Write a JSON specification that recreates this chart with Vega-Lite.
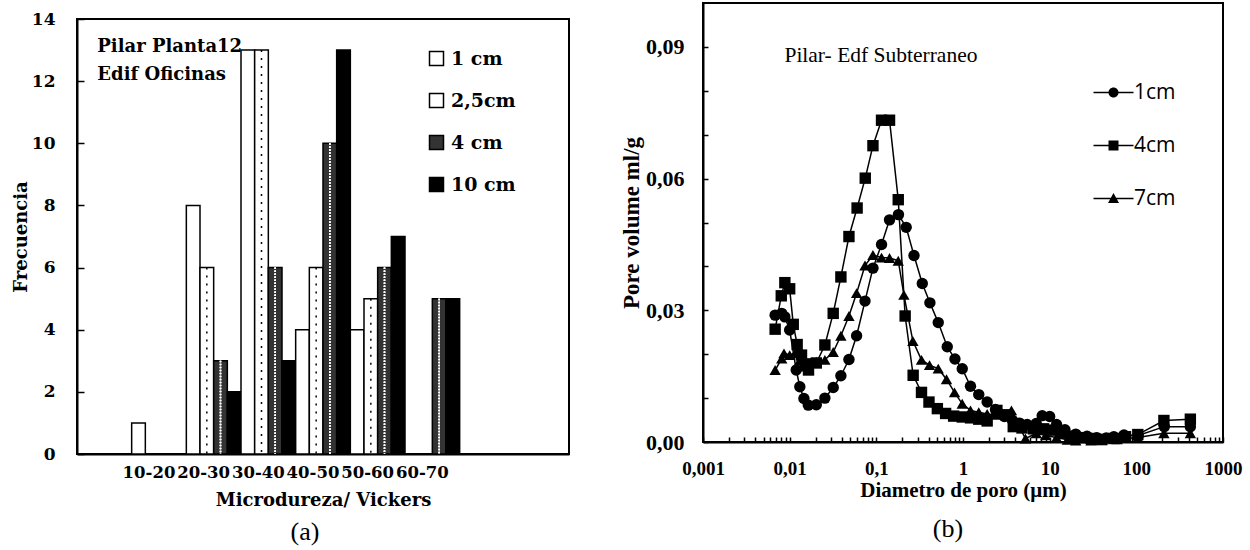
{
  "$schema": "https://vega.github.io/schema/vega-lite/v6.json",
  "background": "white",
  "padding": {"left": 11, "top": 0, "right": 5, "bottom": 0},
  "spacing": 49,
  "config": {
    "view": {"stroke": "black", "strokeWidth": 2},
    "axis": {"domainColor": "black", "domainWidth": 2, "tickColor": "black", "tickWidth": 1.5, "labelColor": "black", "titleColor": "black", "grid": false, "labelFont": "Liberation Serif", "titleFont": "Liberation Serif", "labelFontWeight": "bold", "titleFontWeight": "bold"},
    "title": {"color": "black"}
  },
  "hconcat": [
    {
      "spacing": 2,
      "vconcat": [
        {
          "width": 10,
          "height": 1,
          "data": {"values": [{}]},
          "mark": {"type": "point", "opacity": 0},
          "encoding": {},
          "view": {"stroke": null}
        },
        {
          "width": 492,
          "height": 435,
          "title": {"text": "(a)", "orient": "bottom", "font": "Liberation Serif", "fontSize": 26, "fontWeight": "normal", "offset": 9, "dx": -18},
          "data": {"values": [
            {"range": "10-20", "size": "1 cm", "freq": 1},
            {"range": "20-30", "size": "1 cm", "freq": 8},
            {"range": "20-30", "size": "2,5cm", "freq": 6},
            {"range": "20-30", "size": "4 cm", "freq": 3},
            {"range": "20-30", "size": "10 cm", "freq": 2},
            {"range": "30-40", "size": "1 cm", "freq": 13},
            {"range": "30-40", "size": "2,5cm", "freq": 13},
            {"range": "30-40", "size": "4 cm", "freq": 6},
            {"range": "30-40", "size": "10 cm", "freq": 3},
            {"range": "40-50", "size": "1 cm", "freq": 4},
            {"range": "40-50", "size": "2,5cm", "freq": 6},
            {"range": "40-50", "size": "4 cm", "freq": 10},
            {"range": "40-50", "size": "10 cm", "freq": 13},
            {"range": "50-60", "size": "1 cm", "freq": 4},
            {"range": "50-60", "size": "2,5cm", "freq": 5},
            {"range": "50-60", "size": "4 cm", "freq": 6},
            {"range": "50-60", "size": "10 cm", "freq": 7},
            {"range": "60-70", "size": "4 cm", "freq": 5},
            {"range": "60-70", "size": "10 cm", "freq": 5}
          ]},
          "layer": [
            {
              "mark": {"type": "bar", "stroke": "black", "strokeWidth": 1.5},
              "encoding": {
                "x": {"field": "range", "type": "nominal", "sort": null,
                  "scale": {"domain": ["_a", "10-20", "20-30", "30-40", "40-50", "50-60", "60-70", "_b", "_c"], "paddingInner": 0, "paddingOuter": 0},
                  "axis": {"title": "Microdureza/ Vickers", "ticks": false, "labelAngle": 0, "labelExpr": "indexof(datum.value,'_')==0 ? '' : datum.value", "labelFont": "DejaVu Serif", "labelFontSize": 16.5, "labelPadding": 10, "labelOffset": -10, "labelOverlap": false, "titleFont": "DejaVu Serif", "titleFontSize": 18, "titlePadding": 11}},
                "xOffset": {"field": "size", "type": "nominal", "scale": {"domain": ["1 cm", "2,5cm", "4 cm", "10 cm"], "paddingInner": 0, "paddingOuter": 0}},
                "y": {"field": "freq", "type": "quantitative", "scale": {"domain": [0, 14], "nice": false},
                  "axis": {"title": "Frecuencia", "values": [0,0.5,1,1.5,2,2.5,3,3.5,4,4.5,5,5.5,6,6.5,7,7.5,8,8.5,9,9.5,10,10.5,11,11.5,12,12.5,13,13.5,14], "labelExpr": "datum.value % 2 == 0 ? datum.label : ''", "labelOverlap": false, "tickSize": -7, "labelFont": "DejaVu Serif", "labelFontSize": 17, "labelPadding": 29, "titleFont": "DejaVu Serif", "titleFontSize": 18, "titlePadding": 1}},
                "fill": {"field": "size", "type": "nominal",
                  "scale": {"domain": ["1 cm", "2,5cm", "4 cm", "10 cm"], "range": ["white", "white", "#333333", "black"]},
                  "legend": {"title": null, "orient": "none", "legendX": 350, "legendY": 46, "symbolType": "square", "symbolSize": 196, "symbolStrokeColor": "black", "symbolStrokeWidth": 1.5, "labelFont": "DejaVu Serif", "labelFontWeight": "bold", "labelFontSize": 19, "labelColor": "black", "labelOffset": 5, "rowPadding": 21, "padding": 0}}
              }
            },
            {
              "transform": [{"filter": "datum.size === '2,5cm'"}],
              "mark": {"type": "rule", "color": "black", "strokeWidth": 1.5, "strokeDash": [2, 6]},
              "encoding": {
                "x": {"field": "range", "type": "nominal", "sort": null},
                "xOffset": {"field": "size", "type": "nominal"},
                "y": {"field": "freq", "type": "quantitative"},
                "y2": {"datum": 0}
              }
            },
            {
              "transform": [{"filter": "datum.size === '4 cm'"}],
              "mark": {"type": "rule", "color": "white", "strokeWidth": 1.5, "strokeDash": [1.5, 1.5], "xOffset": -4.5},
              "encoding": {
                "x": {"field": "range", "type": "nominal", "sort": null},
                "xOffset": {"field": "size", "type": "nominal"},
                "y": {"field": "freq", "type": "quantitative"},
                "y2": {"datum": 0}
              }
            },
            {
              "transform": [{"filter": "datum.size === '4 cm'"}],
              "mark": {"type": "rule", "color": "white", "strokeWidth": 1.5, "strokeDash": [1.5, 1.5], "xOffset": -1.5},
              "encoding": {
                "x": {"field": "range", "type": "nominal", "sort": null},
                "xOffset": {"field": "size", "type": "nominal"},
                "y": {"field": "freq", "type": "quantitative"},
                "y2": {"datum": 0}
              }
            },
            {
              "transform": [{"filter": "datum.size === '4 cm'"}],
              "mark": {"type": "rule", "color": "white", "strokeWidth": 1.5, "strokeDash": [1.5, 1.5], "xOffset": 1.5},
              "encoding": {
                "x": {"field": "range", "type": "nominal", "sort": null},
                "xOffset": {"field": "size", "type": "nominal"},
                "y": {"field": "freq", "type": "quantitative"},
                "y2": {"datum": 0}
              }
            },
            {
              "transform": [{"filter": "datum.size === '4 cm'"}],
              "mark": {"type": "rule", "color": "white", "strokeWidth": 1.5, "strokeDash": [1.5, 1.5], "xOffset": 4.5},
              "encoding": {
                "x": {"field": "range", "type": "nominal", "sort": null},
                "xOffset": {"field": "size", "type": "nominal"},
                "y": {"field": "freq", "type": "quantitative"},
                "y2": {"datum": 0}
              }
            },
            {
              "data": {"values": [{}]},
              "mark": {"type": "text", "align": "left", "baseline": "middle", "font": "DejaVu Serif", "fontWeight": "bold", "fontSize": 18, "lineHeight": 28, "dx": -7, "color": "black"},
              "encoding": {
                "x": {"datum": "_a", "type": "nominal"},
                "y": {"datum": 13.1, "type": "quantitative"},
                "text": {"value": ["Pilar Planta12", "Edif Oficinas"]}
              }
            }
          ]
        }
      ]
    },
    {
      "width": 520,
      "height": 439,
      "title": {"text": "(b)", "orient": "bottom", "font": "Liberation Serif", "fontSize": 26, "fontWeight": "normal", "offset": 16, "dx": -15},
      "data": {"values": [
        {"series": "1cm", "d": 0.0068, "v": 0.0289},
        {"series": "1cm", "d": 0.0081, "v": 0.0293},
        {"series": "1cm", "d": 0.0088, "v": 0.0285},
        {"series": "1cm", "d": 0.0100, "v": 0.0255},
        {"series": "1cm", "d": 0.0119, "v": 0.0164},
        {"series": "1cm", "d": 0.0131, "v": 0.0126},
        {"series": "1cm", "d": 0.0146, "v": 0.0099},
        {"series": "1cm", "d": 0.0164, "v": 0.0084},
        {"series": "1cm", "d": 0.0203, "v": 0.0085},
        {"series": "1cm", "d": 0.0255, "v": 0.0100},
        {"series": "1cm", "d": 0.0318, "v": 0.0124},
        {"series": "1cm", "d": 0.0390, "v": 0.0151},
        {"series": "1cm", "d": 0.0483, "v": 0.0188},
        {"series": "1cm", "d": 0.0592, "v": 0.0242},
        {"series": "1cm", "d": 0.0740, "v": 0.0321},
        {"series": "1cm", "d": 0.0914, "v": 0.0396},
        {"series": "1cm", "d": 0.1148, "v": 0.0450},
        {"series": "1cm", "d": 0.1420, "v": 0.0506},
        {"series": "1cm", "d": 0.1800, "v": 0.0518},
        {"series": "1cm", "d": 0.2210, "v": 0.0489},
        {"series": "1cm", "d": 0.2720, "v": 0.0425},
        {"series": "1cm", "d": 0.3390, "v": 0.0361},
        {"series": "1cm", "d": 0.4150, "v": 0.0317},
        {"series": "1cm", "d": 0.5180, "v": 0.0272},
        {"series": "1cm", "d": 0.6580, "v": 0.0217},
        {"series": "1cm", "d": 0.8070, "v": 0.0189},
        {"series": "1cm", "d": 0.9800, "v": 0.0167},
        {"series": "1cm", "d": 1.22, "v": 0.0127},
        {"series": "1cm", "d": 1.52, "v": 0.0108},
        {"series": "1cm", "d": 1.90, "v": 0.0091},
        {"series": "1cm", "d": 2.37, "v": 0.0074},
        {"series": "1cm", "d": 3.0, "v": 0.0058},
        {"series": "1cm", "d": 3.7, "v": 0.0050},
        {"series": "1cm", "d": 4.5, "v": 0.0043},
        {"series": "1cm", "d": 5.5, "v": 0.0040},
        {"series": "1cm", "d": 7.0, "v": 0.0042},
        {"series": "1cm", "d": 8.2, "v": 0.0060},
        {"series": "1cm", "d": 10.0, "v": 0.0058},
        {"series": "1cm", "d": 12, "v": 0.0040},
        {"series": "1cm", "d": 15, "v": 0.0028},
        {"series": "1cm", "d": 20, "v": 0.0018},
        {"series": "1cm", "d": 27, "v": 0.0013},
        {"series": "1cm", "d": 35, "v": 0.0010},
        {"series": "1cm", "d": 45, "v": 0.0009},
        {"series": "1cm", "d": 55, "v": 0.0012},
        {"series": "1cm", "d": 72, "v": 0.0016},
        {"series": "1cm", "d": 105, "v": 0.0015},
        {"series": "1cm", "d": 210, "v": 0.0035},
        {"series": "1cm", "d": 420, "v": 0.0035},
        {"series": "4cm", "d": 0.0068, "v": 0.0257},
        {"series": "4cm", "d": 0.0080, "v": 0.0333},
        {"series": "4cm", "d": 0.0088, "v": 0.0363},
        {"series": "4cm", "d": 0.0100, "v": 0.0349},
        {"series": "4cm", "d": 0.0110, "v": 0.0268},
        {"series": "4cm", "d": 0.0122, "v": 0.0222},
        {"series": "4cm", "d": 0.0137, "v": 0.0198},
        {"series": "4cm", "d": 0.0153, "v": 0.0178},
        {"series": "4cm", "d": 0.0165, "v": 0.0164},
        {"series": "4cm", "d": 0.0203, "v": 0.0180},
        {"series": "4cm", "d": 0.0255, "v": 0.0221},
        {"series": "4cm", "d": 0.0318, "v": 0.0293},
        {"series": "4cm", "d": 0.0390, "v": 0.0376},
        {"series": "4cm", "d": 0.0483, "v": 0.0468},
        {"series": "4cm", "d": 0.0600, "v": 0.0533},
        {"series": "4cm", "d": 0.0745, "v": 0.0601},
        {"series": "4cm", "d": 0.0914, "v": 0.0675},
        {"series": "4cm", "d": 0.1148, "v": 0.0733},
        {"series": "4cm", "d": 0.1420, "v": 0.0733},
        {"series": "4cm", "d": 0.1790, "v": 0.0552},
        {"series": "4cm", "d": 0.2150, "v": 0.0287},
        {"series": "4cm", "d": 0.2660, "v": 0.0152},
        {"series": "4cm", "d": 0.3320, "v": 0.0113},
        {"series": "4cm", "d": 0.4050, "v": 0.0091},
        {"series": "4cm", "d": 0.5060, "v": 0.0076},
        {"series": "4cm", "d": 0.6300, "v": 0.0065},
        {"series": "4cm", "d": 0.7800, "v": 0.0059},
        {"series": "4cm", "d": 0.9800, "v": 0.0057},
        {"series": "4cm", "d": 1.22, "v": 0.0055},
        {"series": "4cm", "d": 1.52, "v": 0.0052},
        {"series": "4cm", "d": 1.90, "v": 0.0048},
        {"series": "4cm", "d": 2.46, "v": 0.0072},
        {"series": "4cm", "d": 3.2, "v": 0.0062},
        {"series": "4cm", "d": 3.8, "v": 0.0035},
        {"series": "4cm", "d": 4.8, "v": 0.0032},
        {"series": "4cm", "d": 6.5, "v": 0.0030},
        {"series": "4cm", "d": 8.5, "v": 0.0030},
        {"series": "4cm", "d": 11, "v": 0.0027},
        {"series": "4cm", "d": 14, "v": 0.0020},
        {"series": "4cm", "d": 18, "v": 0.0013},
        {"series": "4cm", "d": 23, "v": 0.0010},
        {"series": "4cm", "d": 30, "v": 0.0008},
        {"series": "4cm", "d": 40, "v": 0.0006},
        {"series": "4cm", "d": 55, "v": 0.0008},
        {"series": "4cm", "d": 75, "v": 0.0012},
        {"series": "4cm", "d": 104, "v": 0.0017},
        {"series": "4cm", "d": 208, "v": 0.0049},
        {"series": "4cm", "d": 420, "v": 0.0052},
        {"series": "7cm", "d": 0.0068, "v": 0.0164},
        {"series": "7cm", "d": 0.0081, "v": 0.0190},
        {"series": "7cm", "d": 0.0086, "v": 0.0202},
        {"series": "7cm", "d": 0.0100, "v": 0.0198},
        {"series": "7cm", "d": 0.0115, "v": 0.0202},
        {"series": "7cm", "d": 0.0130, "v": 0.0185},
        {"series": "7cm", "d": 0.0145, "v": 0.0172},
        {"series": "7cm", "d": 0.0165, "v": 0.0167},
        {"series": "7cm", "d": 0.0203, "v": 0.0183},
        {"series": "7cm", "d": 0.0255, "v": 0.0187},
        {"series": "7cm", "d": 0.0318, "v": 0.0205},
        {"series": "7cm", "d": 0.0390, "v": 0.0242},
        {"series": "7cm", "d": 0.0483, "v": 0.0287},
        {"series": "7cm", "d": 0.0592, "v": 0.0339},
        {"series": "7cm", "d": 0.0740, "v": 0.0402},
        {"series": "7cm", "d": 0.0914, "v": 0.0426},
        {"series": "7cm", "d": 0.1148, "v": 0.0420},
        {"series": "7cm", "d": 0.1420, "v": 0.0419},
        {"series": "7cm", "d": 0.1790, "v": 0.0413},
        {"series": "7cm", "d": 0.2080, "v": 0.0335},
        {"series": "7cm", "d": 0.2640, "v": 0.0230},
        {"series": "7cm", "d": 0.3320, "v": 0.0187},
        {"series": "7cm", "d": 0.4110, "v": 0.0175},
        {"series": "7cm", "d": 0.5180, "v": 0.0167},
        {"series": "7cm", "d": 0.6450, "v": 0.0143},
        {"series": "7cm", "d": 0.7980, "v": 0.0113},
        {"series": "7cm", "d": 0.9800, "v": 0.0087},
        {"series": "7cm", "d": 1.22, "v": 0.0072},
        {"series": "7cm", "d": 1.52, "v": 0.0068},
        {"series": "7cm", "d": 1.90, "v": 0.0064},
        {"series": "7cm", "d": 2.35, "v": 0.0062},
        {"series": "7cm", "d": 2.83, "v": 0.0065},
        {"series": "7cm", "d": 3.62, "v": 0.0072},
        {"series": "7cm", "d": 4.3, "v": 0.0040},
        {"series": "7cm", "d": 5.26, "v": 0.0008},
        {"series": "7cm", "d": 7.0, "v": 0.0020},
        {"series": "7cm", "d": 9.0, "v": 0.0015},
        {"series": "7cm", "d": 12, "v": 0.0010},
        {"series": "7cm", "d": 16, "v": 0.0005},
        {"series": "7cm", "d": 20, "v": 0.0003},
        {"series": "7cm", "d": 30, "v": 0.0003},
        {"series": "7cm", "d": 40, "v": 0.0004},
        {"series": "7cm", "d": 60, "v": 0.0006},
        {"series": "7cm", "d": 104, "v": 0.0010},
        {"series": "7cm", "d": 208, "v": 0.0020},
        {"series": "7cm", "d": 420, "v": 0.0020}
      ]},
      "layer": [
        {
          "mark": {"type": "line", "color": "black", "strokeWidth": 1.5},
          "encoding": {
            "x": {"field": "d", "type": "quantitative",
              "scale": {"type": "log", "domain": [0.001, 1000], "nice": false},
              "axis": {"title": "Diametro de poro (μm)", "values": [0.001,0.002,0.003,0.004,0.005,0.006,0.007,0.008,0.009,0.01,0.02,0.03,0.04,0.05,0.06,0.07,0.08,0.09,0.1,0.2,0.3,0.4,0.5,0.6,0.7,0.8,0.9,1,2,3,4,5,6,7,8,9,10,20,30,40,50,60,70,80,90,100,200,300,400,500,600,700,800,900,1000],
                "labelExpr": "indexof(['0.001','0.01','0.1','1','10','100','1000'], format(datum.value,'~g')) >= 0 ? replace(format(datum.value,'~g'),'.',',') : ''",
                "labelOverlap": false, "labelFlush": false, "tickSize": -5, "labelFontSize": 19, "labelPadding": 22, "titleFontSize": 21, "titlePadding": 1}},
            "y": {"field": "v", "type": "quantitative",
              "scale": {"domain": [0, 0.1], "nice": false},
              "axis": {"title": "Pore volume ml/g", "values": [0,0.01,0.02,0.03,0.04,0.05,0.06,0.07,0.08,0.09],
                "labelExpr": "round(datum.value*100) % 3 == 0 ? replace(format(datum.value,'.2f'),'.',',') : ''",
                "labelOverlap": false, "tickSize": -5, "labelFontSize": 22, "labelPadding": 24, "titleFontSize": 23, "titlePadding": 2}},
            "detail": {"field": "series", "type": "nominal"}
          }
        },
        {
          "mark": {"type": "point", "filled": true, "color": "black", "size": 130, "opacity": 1},
          "encoding": {
            "x": {"field": "d", "type": "quantitative"},
            "y": {"field": "v", "type": "quantitative"},
            "shape": {"field": "series", "type": "nominal",
              "scale": {"domain": ["1cm", "4cm", "7cm"], "range": ["circle", "square", "triangle-up"]},
              "legend": null}
          }
        },
        {
          "transform": [{"filter": "false"}],
          "mark": {"type": "point", "filled": true, "color": "black", "opacity": 1},
          "encoding": {
            "x": {"field": "d", "type": "quantitative"},
            "y": {"field": "v", "type": "quantitative"},
            "shape": {"field": "series", "type": "nominal",
              "scale": {"domain": ["1cm", "4cm", "7cm"], "range": [
                "M-4,-0.15H4V0.15H-4Z M-1,0A1,1,0,1,1,1,0A1,1,0,1,1,-1,0Z",
                "M-4,-0.15H4V0.15H-4Z M-1,-1H1V1H-1Z",
                "M-4,-0.15H4V0.15H-4Z M0,-1.1L1.1,0.9H-1.1Z"]},
              "legend": {"title": null, "orient": "none", "legendX": 400, "legendY": 79, "symbolSize": 100, "symbolFillColor": "black", "symbolStrokeColor": "black", "symbolStrokeWidth": 0, "labelFont": "Open Sans", "labelFontSize": 21, "labelColor": "black", "labelOffset": 10, "rowPadding": 31, "padding": 0}}
          }
        },
        {
          "data": {"values": [{}]},
          "mark": {"type": "text", "align": "left", "baseline": "middle", "font": "Liberation Serif", "fontSize": 21.5, "color": "black"},
          "encoding": {
            "x": {"datum": 0.0087, "type": "quantitative"},
            "y": {"datum": 0.088, "type": "quantitative"},
            "text": {"value": "Pilar- Edf Subterraneo"}
          }
        }
      ],
      "resolve": {"scale": {"shape": "independent"}}
    }
  ]
}
